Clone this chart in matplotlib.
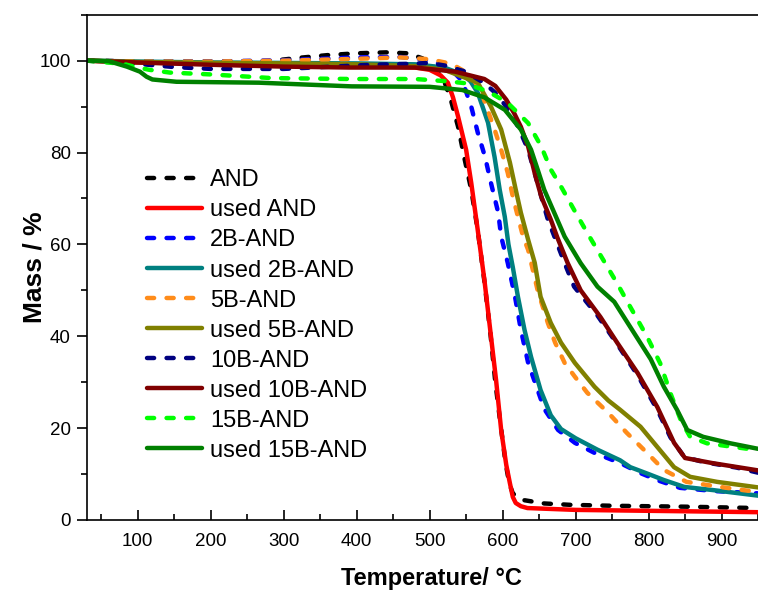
import matplotlib
matplotlib.use("Agg")
import matplotlib.pyplot as plt
from matplotlib.ticker import MultipleLocator

plt.rcParams['font.family'] = ['Liberation Sans', 'DejaVu Sans']

labels = ["AND", "used AND", "2B-AND", "used 2B-AND", "5B-AND", "used 5B-AND",
          "10B-AND", "used 10B-AND", "15B-AND", "used 15B-AND"]
colors = ["#000000", "#FF0000", "#0000FF", "#008080", "#FF8C1A", "#808000",
          "#000080", "#800000", "#00FF00", "#008000"]
dashed = [True, False, True, False, True, False, True, False, True, False]

and_x = [30, 100, 200, 280, 320, 360, 400, 440, 470, 490, 505, 520, 529, 539, 548, 557, 566, 575,
         583, 590, 597, 604, 609, 614, 622, 630, 657, 693, 750, 850, 950]
and_y = [100, 99.8, 99.8, 99.9, 100.6, 101.2, 101.6, 101.8, 101.6, 100.5, 99, 95.5, 91.5, 85.6, 78.5,
         71.9, 63, 52, 41, 30, 21, 12.5, 8, 5.8, 4.7, 4.3, 3.6, 3.3, 3.1, 2.9, 2.6]

used_and_x = [30, 100, 200, 300, 400, 480, 500, 515, 525, 532, 539, 550, 557, 566, 575, 583, 591,
              598, 605, 610, 614, 618, 625, 634, 700, 800, 900, 950]
used_and_y = [100, 99.6, 99.3, 99.1, 98.9, 98.5, 98, 96.8, 95.2, 92, 87.8, 80.6, 73.4, 63, 52.3, 41.4,
              30.5, 19.6, 12, 8, 5, 3.7, 3.0, 2.6, 2.2, 2.0, 1.8, 1.7]

b2_x = [30, 100, 200, 300, 400, 460, 490, 510, 530, 545, 557, 566, 576, 584, 594, 598, 607, 617, 625,
        635, 648, 657, 676, 699, 726, 761, 789, 815, 843, 890, 950]
b2_y = [100, 99.8, 99.8, 100.1, 100.7, 100.8, 100.3, 99.5, 98, 95.5, 90, 84.3, 79, 73.4, 66.9, 61.7,
        56, 48.6, 41.4, 34.2, 28.3, 24.2, 19.6, 16.8, 14.6, 12.4, 10.2, 8.5, 7.0, 6.3, 5.8]

used_b2_x = [30, 100, 200, 300, 400, 480, 520, 545, 556, 566, 580, 589, 596, 603, 608, 614, 621, 630,
             639, 652, 666, 680, 700, 730, 761, 775, 800, 821, 849, 889, 950]
used_b2_y = [100, 99.8, 99.6, 99.5, 99.4, 99.2, 98.5, 97, 95.5, 93, 86.5, 79, 71.9, 66, 60, 55, 48.6,
             41.4, 35.5, 28.3, 22.8, 19.8, 17.8, 15.3, 13, 11.5, 10, 8.7, 7.2, 6.5, 5.3]

b5_x = [30, 100, 200, 300, 400, 460, 500, 530, 555, 570, 576, 589, 598, 607, 614, 621, 628, 635, 648,
        662, 672, 685, 699, 716, 745, 770, 798, 821, 852, 898, 930, 950]
b5_y = [100, 99.8, 99.8, 100, 100.4, 100.7, 100.3, 99.3, 97, 93.5, 90.8, 85, 80.6, 75.6, 70.4, 66,
        61.7, 58.8, 50, 42.9, 38.6, 34.2, 31.2, 27.7, 23.3, 19, 14.6, 10.9, 8.3, 7.2, 6.5, 6.1]

used_b5_x = [30, 100, 200, 300, 400, 480, 520, 545, 566, 584, 598, 610, 618, 625, 635, 644, 652, 666,
             680, 699, 726, 745, 761, 789, 812, 835, 857, 894, 950]
used_b5_y = [100, 99.7, 99.5, 99.4, 99.2, 98.8, 98, 96.5, 95.2, 90, 85, 77.8, 71.9, 66.9, 61, 56, 48.6,
             42.9, 38.6, 34.2, 29, 26, 24, 20.3, 15.9, 11.5, 9.4, 8.3, 7.1]

b10_x = [30, 100, 150, 200, 300, 380, 420, 470, 500, 522, 549, 575, 590, 603, 621, 635, 644, 653, 662,
         671, 685, 698, 730, 757, 785, 812, 830, 849, 876, 921, 950]
b10_y = [100, 99.3, 98.6, 98.2, 98.2, 98.8, 99.1, 99.3, 99.5, 98.9, 97.6, 95.1, 93, 90.4, 85.7, 80.6,
         75.5, 70.4, 65.4, 61.7, 55.9, 50.8, 44.5, 38.3, 31.5, 24, 18, 13.7, 12.6, 11.4, 10.3]

used_b10_x = [30, 100, 200, 300, 389, 480, 535, 575, 590, 605, 616, 625, 635, 644, 653, 666, 675, 689,
              707, 734, 757, 785, 812, 835, 850, 887, 950]
used_b10_y = [100, 99.6, 99.1, 98.7, 98.5, 98.5, 97.6, 96, 94.5, 91.5, 88.5, 85.6, 81.3, 75.5, 70.4,
              65.4, 61.5, 56, 50, 44.2, 38.6, 32, 24.6, 16.8, 13.5, 12.4, 10.8]

b15_x = [30, 80, 100, 116, 144, 200, 284, 393, 480, 525, 548, 580, 607, 635, 653, 666, 680, 698, 716,
         735, 757, 771, 798, 816, 830, 844, 857, 880, 912, 950]
b15_y = [100, 99.3, 98.5, 98, 97.4, 97, 96.2, 96, 96, 95.5, 95.1, 93.3, 90.8, 86.4, 81.3, 76.3, 72.6,
         67.5, 62.5, 57.4, 51.5, 47.5, 39.9, 34.1, 27.6, 21.8, 18.1, 16.7, 16, 15.2]

used_b15_x = [30, 60, 85, 103, 112, 120, 153, 266, 393, 500, 545, 575, 603, 625, 639, 648, 657, 671,
              685, 707, 730, 753, 775, 803, 821, 839, 853, 875, 912, 950]
used_b15_y = [100, 99.9, 98.7, 97.6, 96.5, 95.9, 95.4, 95.2, 94.4, 94.3, 93.6, 92, 89.3, 85, 80.6,
              76.3, 71.9, 66.8, 61.7, 55.9, 50.8, 47.5, 42, 35, 29, 24, 19.6, 18.1, 16.7, 15.5]

series_x = [and_x, used_and_x, b2_x, used_b2_x, b5_x, used_b5_x, b10_x, used_b10_x, b15_x, used_b15_x]
series_y = [and_y, used_and_y, b2_y, used_b2_y, b5_y, used_b5_y, b10_y, used_b10_y, b15_y, used_b15_y]

xticks = [100, 200, 300, 400, 500, 600, 700, 800, 900]
yticks = [0, 20, 40, 60, 80, 100]

W, H = 758, 590
fig = plt.figure(figsize=(W / 100, H / 100), dpi=100)
left, right, bottom, top = 86.7, 758, 520, 14.7
ax = fig.add_axes([left / W, 1 - bottom / H, (right - left) / W, (bottom - top) / H])

for xs, ys, c, d, lab in zip(series_x, series_y, colors, dashed, labels):
    if d:
        ax.plot(xs, ys, color=c, lw=3.2, linestyle=(0, (1.6, 2.8)), dash_capstyle='round',
                solid_joinstyle='round', label=lab)
    else:
        ax.plot(xs, ys, color=c, lw=3.2, solid_capstyle='round', solid_joinstyle='round', label=lab)

ax.set_xlim(30, 950)
ax.set_ylim(0, 110)
ax.set_xticks(xticks)
ax.set_yticks(yticks)
ax.xaxis.set_minor_locator(MultipleLocator(50))
ax.yaxis.set_minor_locator(MultipleLocator(10))
ax.spines['right'].set_visible(False)
for s in ['left', 'bottom', 'top']:
    ax.spines[s].set_linewidth(1.2)
ax.tick_params(axis='x', which='major', direction='in', length=7.5, width=1.2, pad=9, labelsize=13.5)
ax.tick_params(axis='x', which='minor', direction='in', length=4, width=1.2)
ax.tick_params(axis='y', which='major', direction='out', length=7.5, width=1.2, pad=4, labelsize=13.5)
ax.tick_params(axis='y', which='minor', direction='out', length=4.5, width=1.2)
ax.tick_params(top=False, right=False, which='both')

ax.set_xlabel("Temperature/ °C", fontsize=17, fontweight='bold')
ax.set_ylabel("Mass / %", fontsize=19, fontweight='bold')
ax.xaxis.set_label_coords(0.513, -0.094)
ax.yaxis.set_label_coords(-0.06, 0.5)

leg = ax.legend(loc='upper left', bbox_to_anchor=(138 / W, 1 - 160 / H), bbox_transform=fig.transFigure,
                frameon=False, fontsize=17, handlelength=2.3, handletextpad=0.35, labelspacing=0.34,
                borderpad=0.4, borderaxespad=0)

fig.savefig("out.png", dpi=100)
